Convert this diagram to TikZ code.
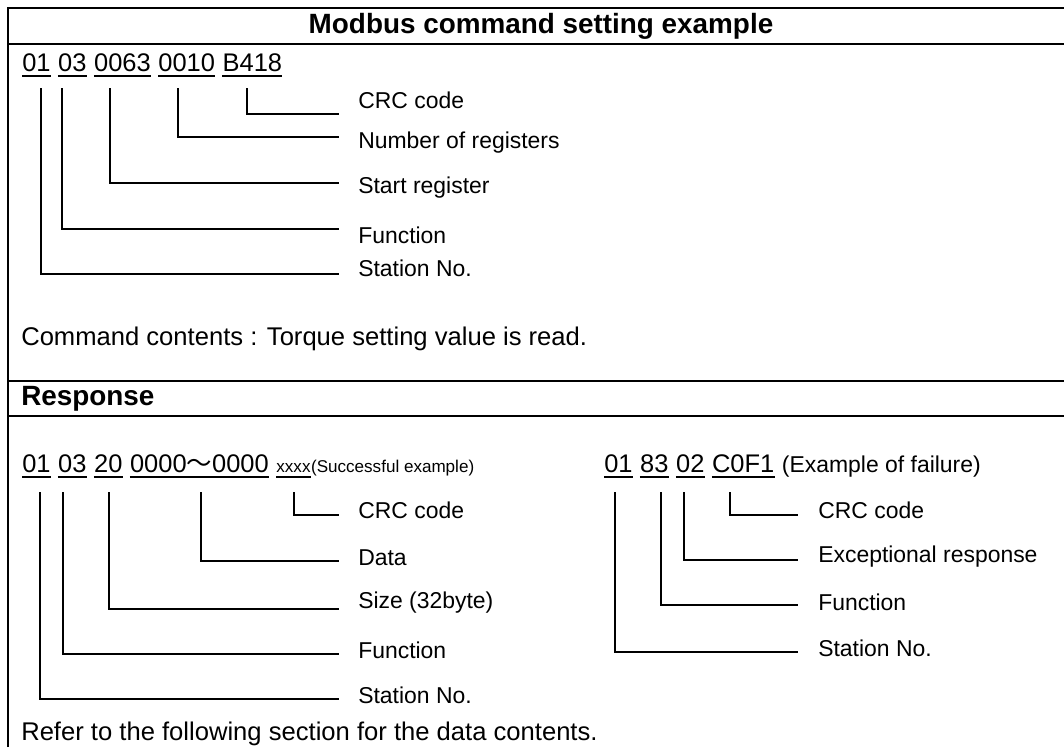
\documentclass[tikz,border=0pt]{standalone}
\usepackage{fontspec}
\setmainfont{Liberation Sans}
\newfontfamily\cjk{Noto Sans CJK JP}
\begin{document}
\begin{tikzpicture}[x=0.75pt,y=-0.75pt,
  frame/.style={line width=1.5pt},
  conn/.style={line width=1.1pt},
  uline/.style={line width=0.9pt},
  code/.style={inner sep=0pt, anchor=base west, font=\fontsize{19.1}{22}\selectfont},
  lbl/.style={inner sep=0pt, anchor=west, font=\fontsize{17.2}{20}\selectfont},
  small/.style={inner sep=0pt, anchor=base west, font=\fontsize{17.2}{20}\selectfont},
  tiny/.style={inner sep=0pt, anchor=base west, font=\fontsize{12.8}{15}\selectfont},
  txt/.style={inner sep=0pt, anchor=base west, font=\fontsize{19.2}{22}\selectfont},
  hdr/.style={inner sep=0pt, font=\bfseries\fontsize{20.9}{24}\selectfont},
]
\useasboundingbox (0,0) rectangle (1064,747);
% frame
\draw[frame] (8,747) -- (8,8) -- (1064,8);
\draw[frame] (8,44) -- (1064,44);
\draw[frame] (8,381) -- (1064,381);
\draw[frame] (8,416) -- (1064,416);
% title
\node[hdr] (title) at (541,26) {Modbus command setting example};
% command line
\node[code] (c1) at (22,71) {01};
\node[code] (c2) at ([xshift=5.3pt]c1.base east) {03};
\node[code] (c3) at ([xshift=5.3pt]c2.base east) {0063};
\node[code] (c4) at ([xshift=5.3pt]c3.base east) {0010};
\node[code] (c5) at ([xshift=5.3pt]c4.base east) {B418};
\foreach \n in {c1,c2,c3,c4,c5}
  \draw[uline] ([yshift=-3.75pt]\n.base west) -- ([yshift=-3.75pt]\n.base east);
% command labels
\node[lbl] (lcrc) at (358,100) {CRC code};
\node[lbl] (lnum) at (358,143) {Number of registers};
\node[lbl] (lstart) at (358,188) {Start register};
\node[lbl] (lfunc) at (358,235) {Function};
\node[lbl] (lsta) at (358,268) {Station No.};
\coordinate (t1) at (41,88);  \coordinate (e1) at (339,274);
\coordinate (t2) at (62,88);  \coordinate (e2) at (339,229);
\coordinate (t3) at (110,88); \coordinate (e3) at (339,183);
\coordinate (t4) at (178,88); \coordinate (e4) at (339,137);
\coordinate (t5) at (247,88); \coordinate (e5) at (339,114);
\foreach \i in {1,...,5} \draw[conn] (t\i) |- (e\i);
\node[txt] (cmd) at (21,345) {Command contents : Torque setting value is read.};
% response header
\node[hdr, anchor=west] (resp) at (21,398.5) {Response};
% response success
\node[code] (r1) at (22,472) {01};
\node[code] (r2) at ([xshift=5.3pt]r1.base east) {03};
\node[code] (r3) at ([xshift=5.3pt]r2.base east) {20};
\node[code] (r4) at ([xshift=5.3pt]r3.base east) {0000{\cjk ～}0000};
\node[tiny] (r5) at ([xshift=5.3pt]r4.base east) {xxxx\ };
\node[tiny] (rs) at (r5.base east) {(Successful example)};
\foreach \n in {r1,r2,r3,r4,r5}
  \draw[uline] ([yshift=-3.75pt]\n.base west) -- ([yshift=-3.75pt]\n.base east);
\node[lbl] (rlcrc) at (358,510) {CRC code};
\node[lbl] (rldata) at (358,558) {Data};
\node[lbl] (rlsize) at (358,603) {Size (32byte)};
\node[lbl] (rlfunc) at (358,650) {Function};
\node[lbl] (rlsta) at (358,695) {Station No.};
\coordinate (s1) at (40,492);  \coordinate (f1) at (339,699);
\coordinate (s2) at (63,492);  \coordinate (f2) at (339,654);
\coordinate (s3) at (109,492); \coordinate (f3) at (339,609);
\coordinate (s4) at (201,492); \coordinate (f4) at (339,561);
\coordinate (s5) at (294,492); \coordinate (f5) at (339,515);
\foreach \i in {1,...,5} \draw[conn] (s\i) |- (f\i);
% response failure
\node[code] (q1) at (604,472) {01};
\node[code] (q2) at ([xshift=5.3pt]q1.base east) {83};
\node[code] (q3) at ([xshift=5.3pt]q2.base east) {02};
\node[code] (q4) at ([xshift=5.3pt]q3.base east) {C0F1};
\node[small] (qs) at ([xshift=5.3pt]q4.base east) {(Example of failure)};
\foreach \n in {q1,q2,q3,q4}
  \draw[uline] ([yshift=-3.75pt]\n.base west) -- ([yshift=-3.75pt]\n.base east);
\node[lbl] (qlcrc) at (818,510) {CRC code};
\node[lbl] (qlexc) at (818,557) {Exceptional response};
\node[lbl] (qlfunc) at (818,602) {Function};
\node[lbl] (qlsta) at (818,648) {Station No.};
\coordinate (u1) at (615,492); \coordinate (g1) at (798,652);
\coordinate (u2) at (661,492); \coordinate (g2) at (798,605);
\coordinate (u3) at (684,492); \coordinate (g3) at (798,560);
\coordinate (u4) at (730,492); \coordinate (g4) at (798,515);
\foreach \i in {1,...,4} \draw[conn] (u\i) |- (g\i);
\node[txt] (refer) at (21,740) {Refer to the following section for the data contents.};
\end{tikzpicture}
\end{document}
